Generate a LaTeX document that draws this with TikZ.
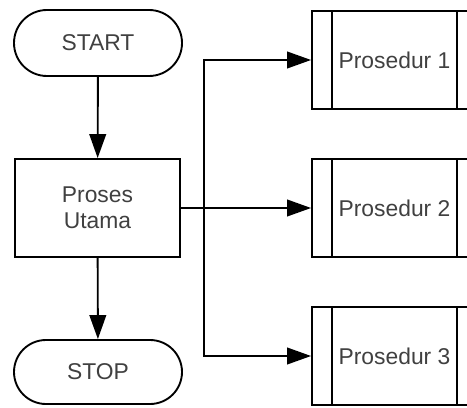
\documentclass[tikz,border=0pt]{standalone}
\usepackage{fontspec}
\setmainfont{Liberation Sans}
\usepackage{xcolor}
\usepackage{tikz}
\usetikzlibrary{arrows.meta, positioning, shapes.misc}

\begin{document}
\begin{tikzpicture}[
    font=\fontsize{19.5}{22}\selectfont, >=Triangle,
    line width=1.6pt,
    termbox/.style={draw, rounded rectangle, text=black!75,
        minimum width=5.04cm, minimum height=1.98cm,
        inner sep=0pt, align=center},
    procbox/.style={draw, rectangle, text=black!75,
        minimum width=4.95cm, minimum height=2.94cm,
        inner sep=0pt, align=center},
    subbox/.style={procbox, path picture={
        \draw ([xshift=0.6cm]path picture bounding box.north west)
           -- ([xshift=0.6cm]path picture bounding box.south west);
        \draw ([xshift=-0.6cm]path picture bounding box.north east)
           -- ([xshift=-0.6cm]path picture bounding box.south east);}},
    arr/.style={-{Triangle[length=0.72cm, width=0.5cm]}},
]
\useasboundingbox (0,0) rectangle (14.01,12.21);
\clip (0,0) rectangle (14.01,12.21);

%% ========== MAIN FLOW (left) ==========
\node[termbox] (start) at (2.94, 10.92) {START};
\node[procbox] (main) at (2.925, 5.97) {Proses\\Utama};
\node[termbox, minimum height=1.92cm] (stop) at (2.94, 1.05) {STOP};

%% ========== SUB PROCEDURES (right) ==========
\node[subbox] (sub1) at (11.835, 10.41) {Prosedur 1};
\node[subbox] (sub2) at (11.835, 5.97) {Prosedur 2};
\node[subbox] (sub3) at (11.835, 1.53) {Prosedur 3};

%% ========== CONNECTORS ==========
\draw[arr] (start) -- (main);
\draw[arr] (main) -- (stop);

\coordinate (fork) at (6.12, 5.97);
\draw[arr] (main.east) -- (sub2.west);
\draw[arr] (fork) |- (sub1.west);
\draw[arr] (fork) |- (sub3.west);
\end{tikzpicture}
\end{document}
